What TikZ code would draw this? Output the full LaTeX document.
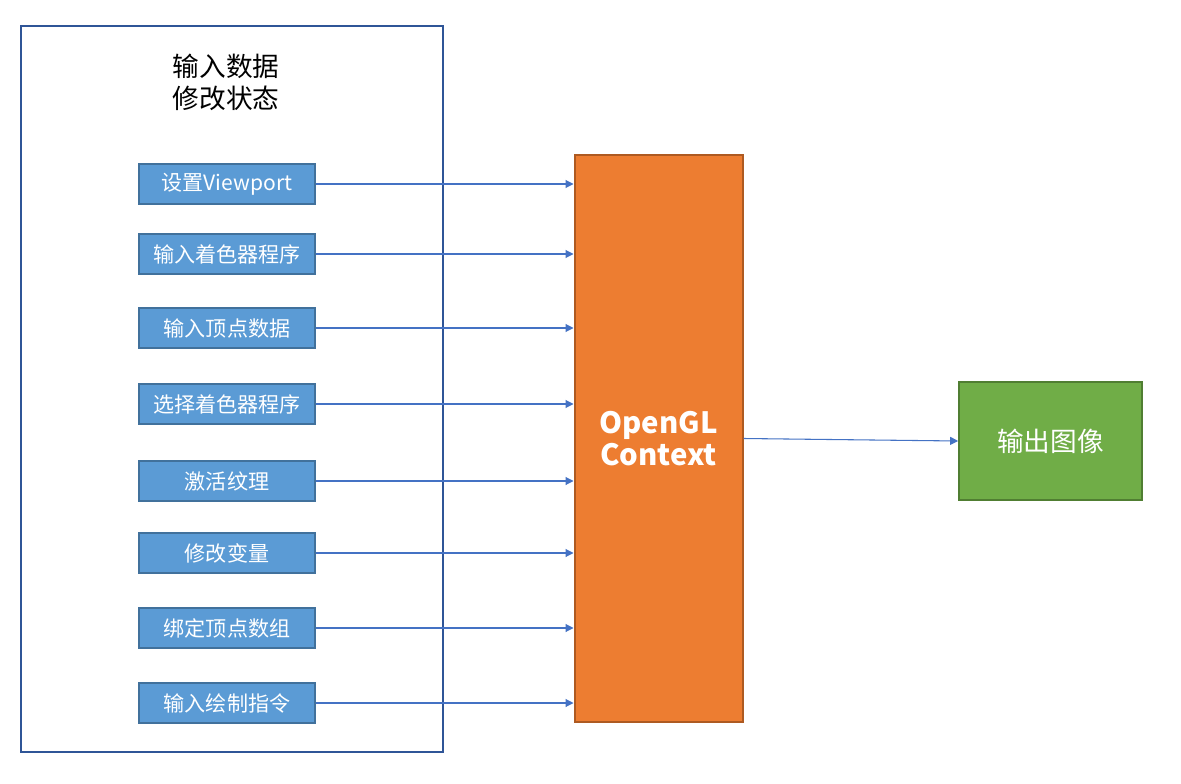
\documentclass[tikz,border=0pt]{standalone}
\usepackage{fontspec}
\setmainfont{Noto Sans CJK SC}
\usetikzlibrary{arrows.meta,positioning}
\definecolor{stepFill}{HTML}{5B9BD5}
\definecolor{stepLine}{HTML}{41719C}
\definecolor{grpLine}{HTML}{2F5597}
\definecolor{ctxFill}{HTML}{ED7D31}
\definecolor{ctxLine}{HTML}{AE5A21}
\definecolor{outFill}{HTML}{70AD47}
\definecolor{outLine}{HTML}{507E32}
\definecolor{arrColor}{HTML}{4472C4}
\tikzset{
	stepbox/.style={draw=stepLine, fill=stepFill, line width=1.5pt, text=white,
		minimum width=132pt, minimum height=30pt, inner sep=0,
		font=\fontsize{15.8}{18}\selectfont},
	feed/.style={draw=arrColor, line width=0.8pt, -{Triangle[length=6pt,width=6pt]}}
}

\begin{document}
\begin{tikzpicture}[x=0.75pt, y=-0.75pt]
\useasboundingbox[fill=white] (0,0) rectangle (1181,784);
\node[draw=grpLine, line width=1.5pt, minimum width=316pt, minimum height=544pt, inner sep=0] (grp) at (232, 389) {};
\node[align=center, font=\fontsize{20}{24}\selectfont] (title) at (226, 82) {输入数据\\修改状态};
\node[stepbox] (s1) at (227, 184) {设置Viewport};
\node[stepbox] (s2) at (227, 254) {输入着色器程序};
\node[stepbox] (s3) at (227, 328) {输入顶点数据};
\node[stepbox] (s4) at (227, 404) {选择着色器程序};
\node[stepbox] (s5) at (227, 481) {激活纹理};
\node[stepbox] (s6) at (227, 553) {修改变量};
\node[stepbox] (s7) at (227, 628) {绑定顶点数组};
\node[stepbox] (s8) at (227, 703) {输入绘制指令};
\node[draw=ctxLine, fill=ctxFill, line width=1.5pt, minimum width=126pt, minimum height=425pt, inner sep=0,
	text=white, align=center, font=\fontsize{22}{24}\selectfont\bfseries] (ctx) at (658.5, 438.5) {OpenGL\\Context};
\node[draw=outLine, fill=outFill, line width=1.5pt, minimum width=137pt, minimum height=88pt, inner sep=0,
	text=white, font=\fontsize{20}{22}\selectfont] (img) at (1050.5, 441) {输出图像};
\draw[feed] (s1.east) -- (s1.east -| ctx.west);
\draw[feed] (s2.east) -- (s2.east -| ctx.west);
\draw[feed] (s3.east) -- (s3.east -| ctx.west);
\draw[feed] (s4.east) -- (s4.east -| ctx.west);
\draw[feed] (s5.east) -- (s5.east -| ctx.west);
\draw[feed] (s6.east) -- (s6.east -| ctx.west);
\draw[feed] (s7.east) -- (s7.east -| ctx.west);
\draw[feed] (s8.east) -- (s8.east -| ctx.west);
\draw[feed] (ctx.east) -- (img.west);
\end{tikzpicture}
\end{document}
